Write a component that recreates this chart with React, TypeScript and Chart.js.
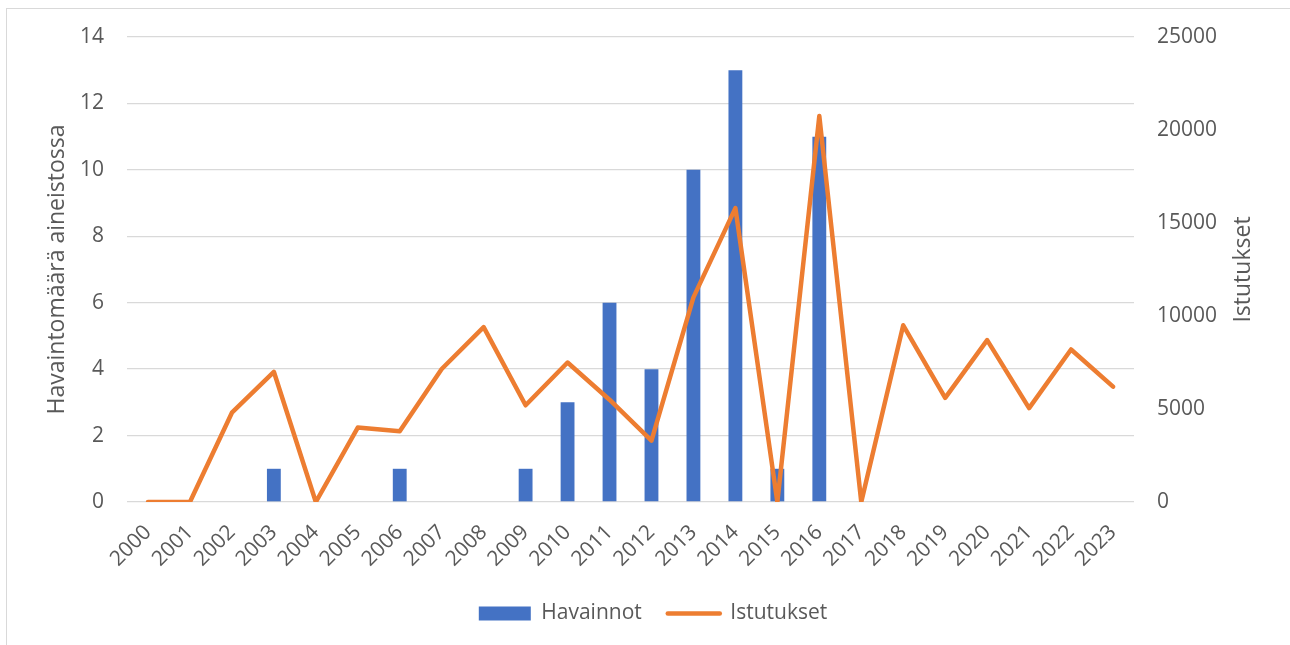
import React, { useEffect, useRef } from "react";
import { Chart, registerables } from "chart.js";

Chart.register(...registerables);

const years = [
  "2000", "2001", "2002", "2003", "2004", "2005", "2006", "2007", "2008", "2009", "2010", "2011",
  "2012", "2013", "2014", "2015", "2016", "2017", "2018", "2019", "2020", "2021", "2022", "2023",
];
const havainnot = [0, 0, 0, 1, 0, 0, 1, 0, 0, 1, 3, 6, 4, 10, 13, 1, 11, 0, 0, 0, 0, 0, 0, 0];
const istutukset = [
  0, 0, 4800, 7000, 0, 4000, 3800, 7150, 9400, 5200, 7500, 5500,
  3300, 11000, 15800, 0, 20750, 0, 9500, 5600, 8700, 5050, 8200, 6200,
];
const leftTitle = "Havaintomäärä aineistossa";
const rightTitle = "Istutukset";
const barLabel = "Havainnot";
const lineLabel = "Istutukset";

const FONT = "'Open Sans', 'Liberation Sans', sans-serif";
const TEXT = "#595959";
const GRID = "#d9d9d9";
const BLUE = "#4472C4";
const ORANGE = "#ED7D31";

export default function App() {
  const ref = useRef<HTMLCanvasElement | null>(null);

  useEffect(() => {
    if (!ref.current) return;
    const rightTitlePlugin = {
      id: "rightTitle",
      afterDraw(chart: any) {
        const { ctx, chartArea } = chart;
        ctx.save();
        ctx.font = `23px ${FONT}`;
        ctx.fillStyle = TEXT;
        ctx.textAlign = "center";
        ctx.textBaseline = "middle";
        ctx.translate(1243, (chartArea.top + chartArea.bottom) / 2);
        ctx.rotate(-Math.PI / 2);
        ctx.fillText(rightTitle, 0, 0);
        ctx.restore();
      },
    };
    const chart = new Chart(ref.current, {
      type: "bar",
      data: {
        labels: years,
        datasets: [
          {
            type: "bar",
            label: barLabel,
            data: havainnot,
            backgroundColor: BLUE,
            borderWidth: 0,
            yAxisID: "y",
            order: 2,
            categoryPercentage: 1,
            barPercentage: 0.33,
          } as any,
          {
            type: "line",
            label: lineLabel,
            data: istutukset,
            borderColor: ORANGE,
            backgroundColor: ORANGE,
            borderWidth: 4.5,
            borderJoinStyle: "round",
            borderCapStyle: "round",
            pointRadius: 0,
            tension: 0,
            yAxisID: "y1",
            order: 1,
          } as any,
        ],
      },
      options: {
        animation: false,
        responsive: false,
        maintainAspectRatio: false,
        layout: { padding: { top: 37, left: 16, right: 0, bottom: 11 } },
        plugins: {
          tooltip: { enabled: false },
          legend: {
            display: true,
            position: "bottom",
            labels: {
              usePointStyle: true,
              pointStyleWidth: 52,
              boxHeight: 14,
              padding: 26,
              color: TEXT,
              font: { family: FONT, size: 21 },
              generateLabels: () => [
                {
                  text: barLabel,
                  fillStyle: BLUE,
                  strokeStyle: BLUE,
                  lineWidth: 0,
                  pointStyle: "rect",
                  datasetIndex: 0,
                  fontColor: TEXT,
                } as any,
                {
                  text: lineLabel,
                  fillStyle: ORANGE,
                  strokeStyle: ORANGE,
                  lineWidth: 4.5,
                  lineCap: "round",
                  pointStyle: "line",
                  datasetIndex: 1,
                  fontColor: TEXT,
                } as any,
              ],
            },
          },
        },
        scales: {
          x: {
            offset: true,
            grid: { display: false },
            border: { display: false },
            ticks: {
              color: TEXT,
              font: { family: FONT, size: 21 },
              minRotation: 45,
              maxRotation: 45,
              autoSkip: false,
              padding: 10,
            },
            afterFit(scale: any) {
              const lh = scale.chart.legend ? scale.chart.legend.height : 0;
              scale.height = 645 - 502 - lh - 11;
            },
          },
          y: {
            position: "left",
            min: 0,
            max: 14,
            grid: { color: GRID, lineWidth: 1.3, drawTicks: false },
            border: { display: false },
            ticks: {
              stepSize: 2,
              color: TEXT,
              font: { family: FONT, size: 21 },
              padding: 23,
            },
            title: {
              display: true,
              text: leftTitle,
              color: TEXT,
              font: { family: FONT, size: 23 },
              padding: { top: 28, bottom: 0 },
            },
            afterFit(scale: any) {
              scale.width = 127 - 16;
            },
          },
          y1: {
            position: "right",
            min: 0,
            max: 25000,
            grid: { display: false, drawTicks: false },
            border: { display: false },
            ticks: {
              stepSize: 5000,
              color: TEXT,
              font: { family: FONT, size: 21 },
              padding: 23,
              callback: (v: any) => String(v),
            },
            afterFit(scale: any) {
              scale.width = 1290 - 1134;
            },
          },
        },
      } as any,
      plugins: [rightTitlePlugin],
    });
    return () => chart.destroy();
  }, []);

  return (
    <div style={{ position: "fixed", left: 0, top: 0, width: 1290, height: 645, background: "#fff" }}>
      <div
        style={{
          position: "absolute",
          left: 6,
          top: 8,
          right: -10,
          bottom: -10,
          borderLeft: "1.5px solid #d9d9d9",
          borderTop: "1.5px solid #d9d9d9",
        }}
      />
      <canvas
        ref={ref}
        width={1290}
        height={645}
        style={{ position: "absolute", left: 0, top: 0, width: 1290, height: 645 }}
      />
    </div>
  );
}
